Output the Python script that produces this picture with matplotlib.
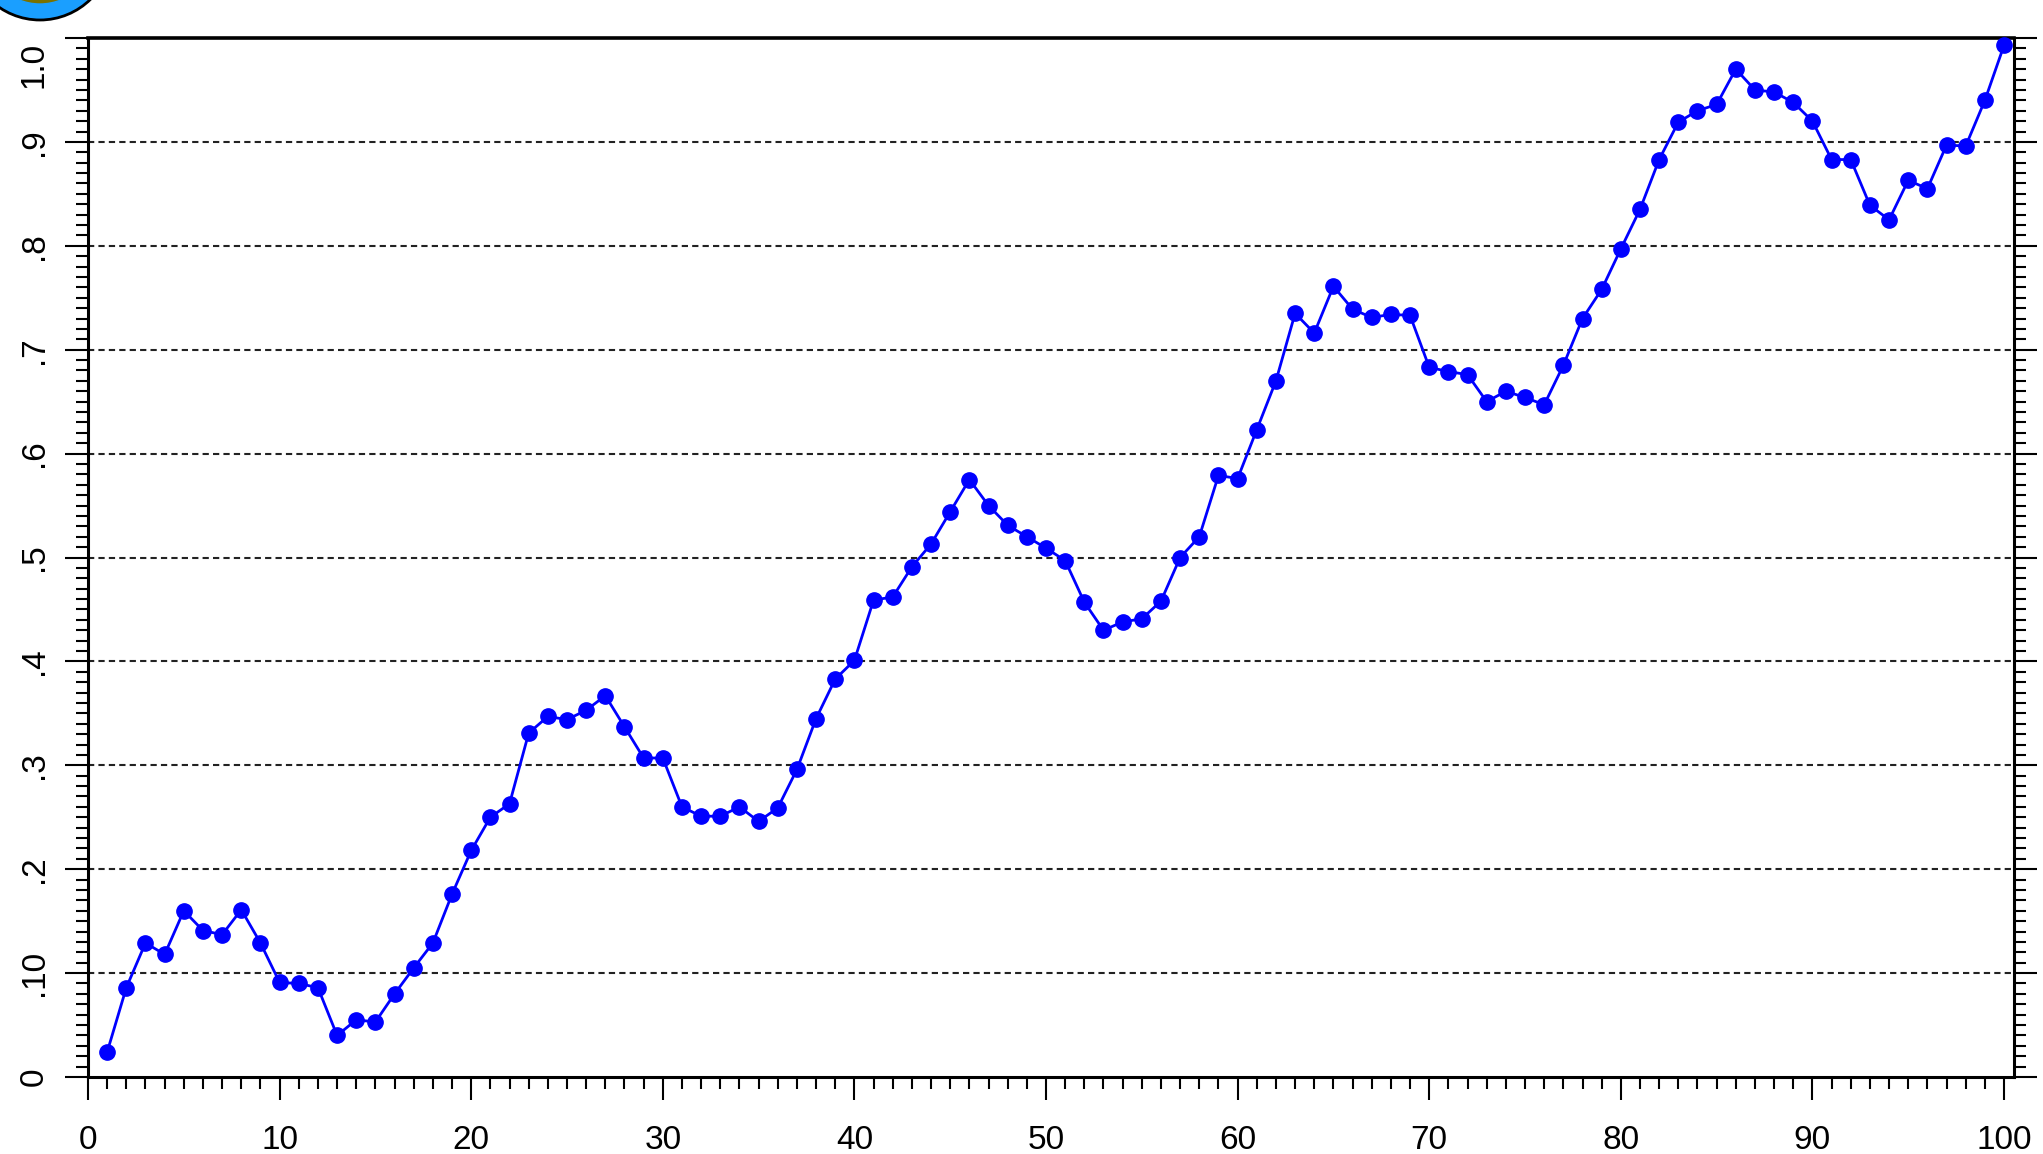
import matplotlib
matplotlib.use('Agg')
import matplotlib.pyplot as plt
from matplotlib.ticker import MultipleLocator, FixedLocator
from matplotlib.patches import Circle
from matplotlib.transforms import ScaledTranslation

# series (x = 1..100)
steps = list(range(1, 101))
values = [0.024, 0.086, 0.129, 0.118, 0.160, 0.141, 0.137, 0.161, 0.129, 0.091,
          0.090, 0.086, 0.040, 0.055, 0.053, 0.080, 0.105, 0.129, 0.176, 0.218,
          0.250, 0.263, 0.331, 0.347, 0.344, 0.353, 0.367, 0.337, 0.307, 0.307,
          0.260, 0.251, 0.251, 0.260, 0.246, 0.259, 0.296, 0.345, 0.383, 0.401,
          0.459, 0.462, 0.491, 0.513, 0.544, 0.575, 0.550, 0.531, 0.520, 0.509,
          0.497, 0.457, 0.430, 0.438, 0.441, 0.458, 0.500, 0.520, 0.579, 0.576,
          0.623, 0.670, 0.735, 0.716, 0.761, 0.739, 0.731, 0.734, 0.733, 0.683,
          0.679, 0.676, 0.650, 0.660, 0.654, 0.647, 0.685, 0.730, 0.758, 0.797,
          0.835, 0.883, 0.919, 0.930, 0.936, 0.970, 0.950, 0.948, 0.938, 0.920,
          0.883, 0.883, 0.839, 0.825, 0.863, 0.855, 0.897, 0.896, 0.940, 0.993]

y_ticks = [0, 0.1, 0.2, 0.3, 0.4, 0.5, 0.6, 0.7, 0.8, 0.9, 1.0]
y_labels = ['0', '.10', '.2', '.3', '.4', '.5', '.6', '.7', '.8', '.9', '1.0']
x_ticks = [0, 10, 20, 30, 40, 50, 60, 70, 80, 90, 100]

W, H = 2043, 1154
fig = plt.figure(figsize=(W / 100, H / 100), dpi=100)
# axes box in pixels: left 88, right 2014, top 38, bottom 1077
ax = fig.add_axes([88 / W, 1 - 1077 / H, (2014 - 88) / W, (1077 - 38) / H])

ax.plot(steps, values, color='#0000ff', lw=2, marker='o', ms=11,
        mfc='#0000ff', mec='#0000ff', zorder=4, clip_on=False)

for g in y_ticks[1:-1]:
    ax.axhline(g, color='#222222', lw=1.5, ls=(0, (3, 2)), zorder=1)

ax.set_xlim(0, 100.52)
ax.set_ylim(0, 1.0)

ax.xaxis.set_major_locator(FixedLocator(x_ticks))
ax.xaxis.set_minor_locator(MultipleLocator(1))
ax.yaxis.set_major_locator(FixedLocator(y_ticks))
ax.yaxis.set_minor_locator(MultipleLocator(0.01))
ax.set_yticklabels(y_labels)

fnt = ['Liberation Sans', 'DejaVu Sans']
ax.tick_params(axis='both', which='major', direction='out', length=16.5, width=1.5,
               color='black', labelsize=24)
ax.tick_params(axis='both', which='minor', direction='out', length=8.3, width=1.5)
ax.tick_params(axis='x', which='both', top=False, pad=18)
ax.tick_params(axis='y', which='both', right=True, pad=11)
for lab in ax.get_xticklabels():
    lab.set_family(fnt)
ylabs = ax.get_yticklabels()
for lab in ylabs:
    lab.set_family(fnt)
    lab.set_rotation(90)
    lab.set_va('center')
# top label is pushed down so it stays inside the image
ylabs[-1].set_va('top')
ylabs[-1].set_transform(ylabs[-1].get_transform()
                        + ScaledTranslation(0, -4 / 100, fig.dpi_scale_trans))

for s in ax.spines.values():
    s.set_linewidth(2.2)
    s.set_color('black')
ax.spines['top'].set_linewidth(2.6)

# logo fragment in the top left corner (mostly cut off by the image edge)
outer = Circle((40, H + 52), 72, transform=None, facecolor='#1a9fff',
               edgecolor='black', lw=2)
inner = Circle((40, H + 52), 56, transform=None, facecolor='#7a7200',
               edgecolor='#1a9fff', lw=1)
fig.patches.extend([outer, inner])

fig.savefig('out.png', dpi=100)
